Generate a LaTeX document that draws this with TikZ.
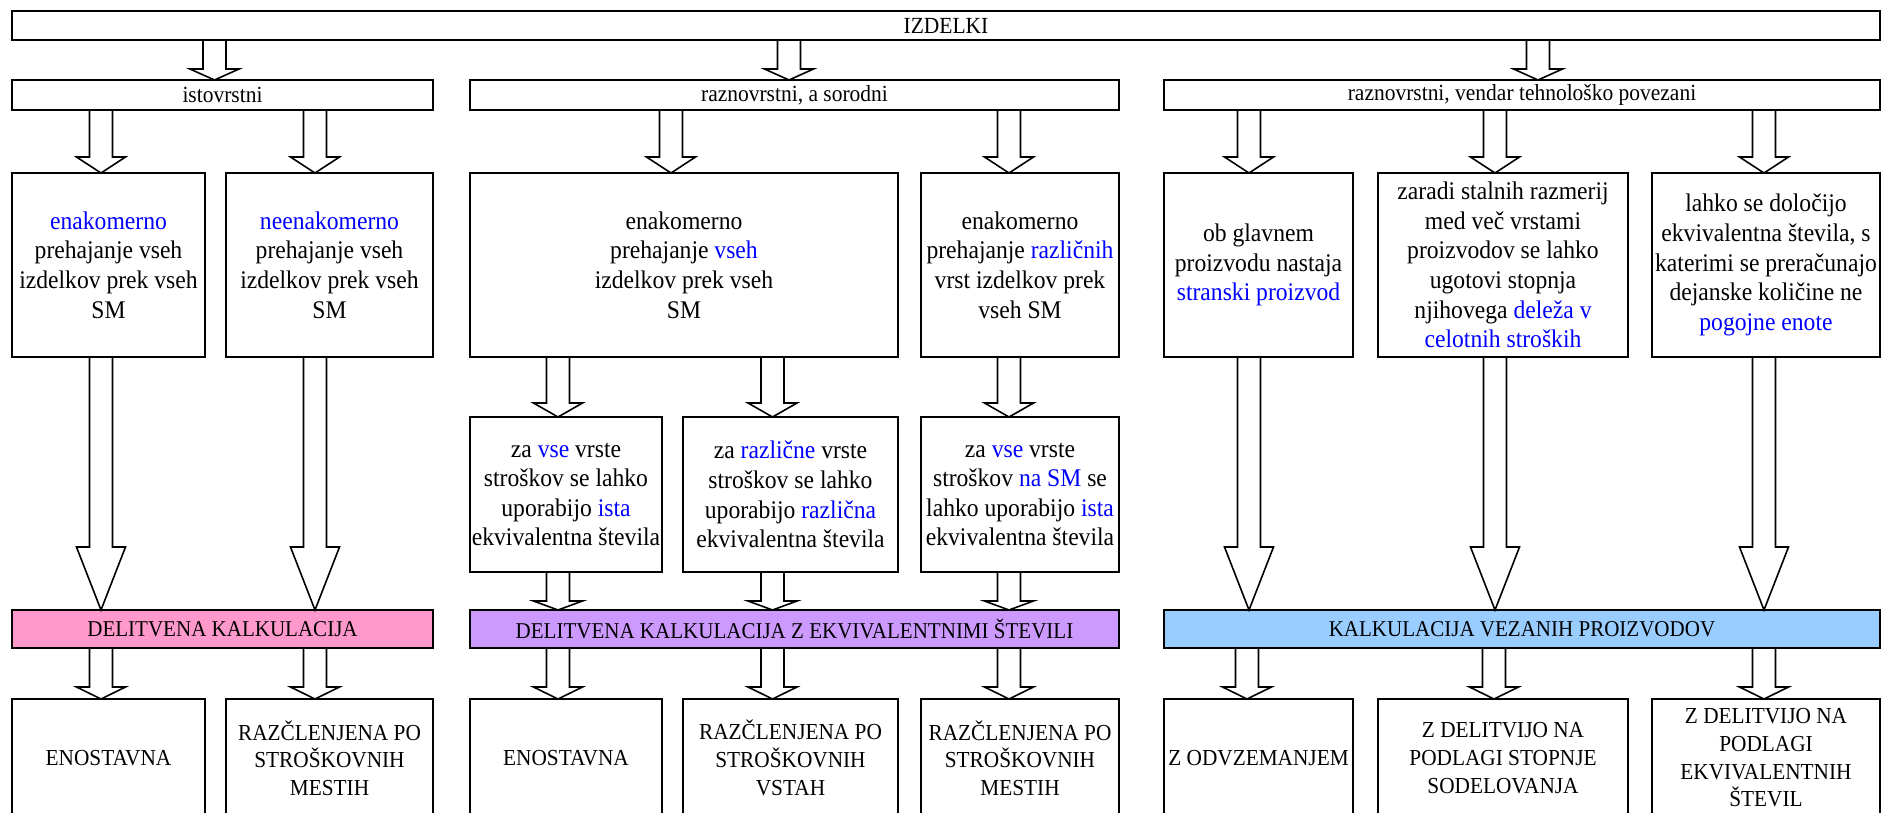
\documentclass[tikz,border=0pt]{standalone}
\usepackage{fontspec}
\setmainfont{Liberation Serif}[FakeStretch=0.93]
\usetikzlibrary{calc}
\definecolor{hlblue}{RGB}{0,0,255}
\definecolor{pinkbar}{RGB}{255,153,204}
\definecolor{purplebar}{RGB}{204,153,255}
\definecolor{bluebar}{RGB}{153,204,255}
\newcommand\hl[1]{\textcolor{hlblue}{#1}}
\tikzset{
  box/.style={draw, line width=2.6pt, outer sep=0pt, inner sep=0pt, align=center,
    anchor=north west, font=\fontsize{25.4}{29.6}\selectfont},
  topf/.style={font=\fontsize{23.1}{26}\selectfont},
  barf/.style={font=\fontsize{22.6}{26}\selectfont},
  botf/.style={font=\fontsize{22.9}{27.7}\selectfont},
  arr/.style={draw, line width=1.6pt, line join=miter},
}
% [style]{name}{x1}{y1}{x2}{y2}{text}
\newcommand\mybox[7][]{\node[box,#1,minimum width=#5pt-#3pt,minimum height=#6pt-#4pt] (#2) at (#3,#4) {#7};}
% {src}{dst}{x}{head length}
\newcommand\blkarrow[4]{%
  \draw[arr] let \p1=(#1.south), \p2=(#2.north) in
    (#3pt-11.5pt,\y1) -- (#3pt-11.5pt,\y2+#4pt) -- (#3pt-24.5pt,\y2+#4pt) -- (#3pt,\y2)
    -- (#3pt+24.5pt,\y2+#4pt) -- (#3pt+11.5pt,\y2+#4pt) -- (#3pt+11.5pt,\y1);}
\begin{document}
\begin{tikzpicture}[x=1pt,y=-1pt]
\useasboundingbox (0,0) rectangle (1883,812);
\clip (0,0) rectangle (1883,812);

% row 1
\mybox[topf]{top}{12}{11}{1880}{40}{IZDELKI}
% row 2
\mybox[topf]{s1}{12}{80}{433}{110}{istovrstni}
\mybox[topf]{s2}{470}{80}{1119}{110}{raznovrstni, a sorodni}
\mybox[topf]{s3}{1164}{80}{1880}{110}{raznovrstni, vendar tehnološko povezani}
% row 3
\mybox{ra}{12}{173}{205}{357}{\hl{enakomerno}\\prehajanje vseh\\izdelkov prek vseh\\SM}
\mybox{rb}{226}{173}{433}{357}{\hl{neenakomerno}\\prehajanje vseh\\izdelkov prek vseh\\SM}
\mybox{rc}{470}{173}{898}{357}{enakomerno\\prehajanje \hl{vseh}\\izdelkov prek vseh\\SM}
\mybox{rd}{921}{173}{1119}{357}{enakomerno\\prehajanje \hl{različnih}\\vrst izdelkov prek\\vseh SM}
\mybox{re}{1164}{173}{1353}{357}{ob glavnem\\proizvodu nastaja\\\hl{stranski proizvod}}
\mybox{rf}{1378}{173}{1628}{357}{zaradi stalnih razmerij\\med več vrstami\\proizvodov se lahko\\ugotovi stopnja\\njihovega \hl{deleža v}\\\hl{celotnih stroških}}
\mybox{rg}{1652}{173}{1880}{357}{lahko se določijo\\ekvivalentna števila, s\\katerimi se preračunajo\\dejanske količine ne\\\hl{pogojne enote}}
% row 4
\mybox{qh}{470}{417}{662}{572}{za \hl{vse} vrste\\stroškov se lahko\\uporabijo \hl{ista}\\ekvivalentna števila}
\mybox{qi}{683}{417}{898}{572}{za \hl{različne} vrste\\stroškov se lahko\\uporabijo \hl{različna}\\ekvivalentna števila}
\mybox{qj}{921}{417}{1119}{572}{za \hl{vse} vrste\\stroškov \hl{na SM} se\\lahko uporabijo \hl{ista}\\ekvivalentna števila}
% row 5 bars
\mybox[barf,fill=pinkbar]{b1}{12}{610}{433}{648}{DELITVENA KALKULACIJA}
\mybox[barf,fill=purplebar]{b2}{470}{610}{1119}{648}{DELITVENA KALKULACIJA Z EKVIVALENTNIMI ŠTEVILI}
\mybox[barf,fill=bluebar]{b3}{1164}{610}{1880}{648}{KALKULACIJA VEZANIH PROIZVODOV}
% row 6
\mybox[botf]{pa}{12}{699}{205}{817}{ENOSTAVNA}
\mybox[botf]{pb}{226}{699}{433}{817}{RAZČLENJENA PO\\STROŠKOVNIH\\MESTIH}
\mybox[botf]{ph}{470}{699}{662}{817}{ENOSTAVNA}
\mybox[botf]{pi}{683}{699}{898}{817}{RAZČLENJENA PO\\STROŠKOVNIH\\VSTAH}
\mybox[botf]{pj}{921}{699}{1119}{817}{RAZČLENJENA PO\\STROŠKOVNIH\\MESTIH}
\mybox[botf]{pe}{1164}{699}{1353}{817}{Z ODVZEMANJEM}
\mybox[botf]{pf}{1378}{699}{1628}{817}{Z DELITVIJO NA\\PODLAGI STOPNJE\\SODELOVANJA}
\mybox[botf]{pg}{1652}{699}{1880}{817}{Z DELITVIJO NA\\PODLAGI\\EKVIVALENTNIH\\ŠTEVIL}

% arrows row1 -> row2
\blkarrow{top}{s1}{214.5}{11}
\blkarrow{top}{s2}{789}{11}
\blkarrow{top}{s3}{1538}{11}
% row2 -> row3
\blkarrow{s1}{ra}{101}{16}
\blkarrow{s1}{rb}{315}{16}
\blkarrow{s2}{rc}{671}{16}
\blkarrow{s2}{rd}{1009}{16}
\blkarrow{s3}{re}{1249}{16}
\blkarrow{s3}{rf}{1495}{16}
\blkarrow{s3}{rg}{1764}{16}
% row3 -> row4
\blkarrow{rc}{qh}{558}{14}
\blkarrow{rc}{qi}{772.5}{14}
\blkarrow{rd}{qj}{1009}{14}
% long arrows row3 -> bars
\blkarrow{ra}{b1}{101}{63}
\blkarrow{rb}{b1}{315}{63}
\blkarrow{re}{b3}{1249}{63}
\blkarrow{rf}{b3}{1495}{63}
\blkarrow{rg}{b3}{1764}{63}
% row4 -> bar 2
\blkarrow{qh}{b2}{558}{9}
\blkarrow{qi}{b2}{772.5}{9}
\blkarrow{qj}{b2}{1009}{9}
% bars -> row6
\blkarrow{b1}{pa}{101}{12}
\blkarrow{b1}{pb}{315}{12}
\blkarrow{b2}{ph}{558}{12}
\blkarrow{b2}{pi}{772.5}{12}
\blkarrow{b2}{pj}{1009}{12}
\blkarrow{b3}{pe}{1247}{12}
\blkarrow{b3}{pf}{1494}{12}
\blkarrow{b3}{pg}{1764}{12}
\end{tikzpicture}
\end{document}
